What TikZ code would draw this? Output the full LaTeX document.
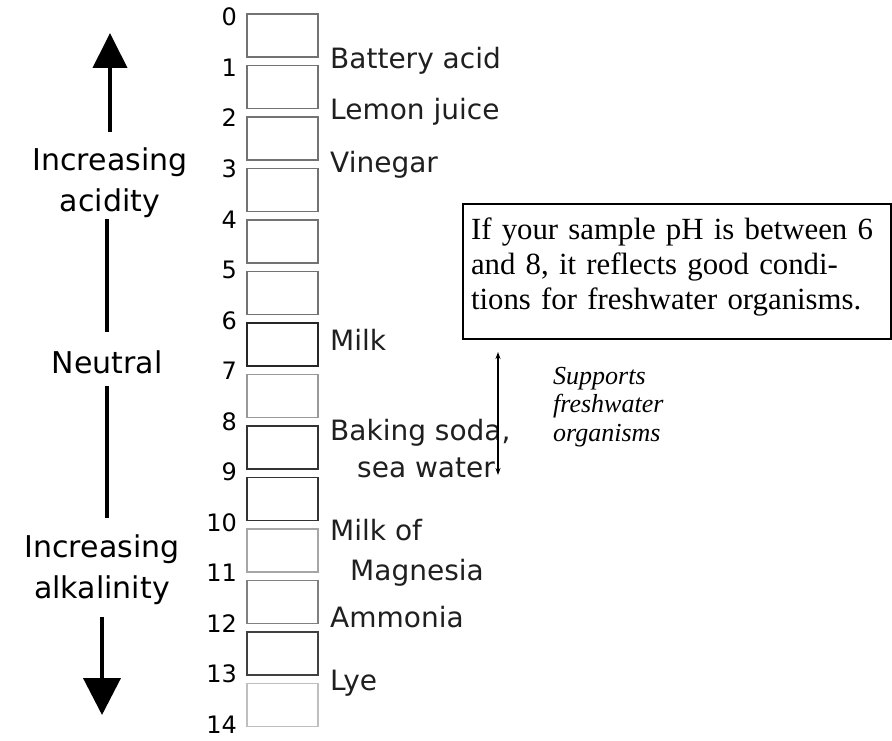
\documentclass[tikz,border=0pt]{standalone}
\usepackage{fontspec}
\setmainfont{Liberation Serif}
\newfontfamily\pixfont{DejaVu Sans}
\usetikzlibrary{arrows.meta}

\tikzset{
  phbox/.style={minimum width=71pt, minimum height=43pt, inner sep=0pt, line width=1.5pt},
  phnum/.style={font=\pixfont\fontsize{24}{26}\selectfont, anchor=base east, inner sep=0pt},
  scalelabel/.style={font=\pixfont\fontsize{28}{30}\selectfont, anchor=base west, inner sep=0pt, text=black!88},
  sidelabel/.style={font=\pixfont\fontsize{30}{41}\selectfont, align=center, inner sep=0pt},
  shaft/.style={line width=4pt},
  notebox/.style={draw, line width=2pt, font=\fontsize{30.8}{35}\selectfont, align=left,
    text width=412pt, inner xsep=8pt, inner ysep=13.5pt},
  goodrange/.style={line width=1.2pt, {Stealth[length=7pt,width=5pt]}-{Stealth[length=7pt,width=5pt]}}
}

\begin{document}
\begin{tikzpicture}[x=1pt,y=-1pt]
\useasboundingbox (0,0) rectangle (892,741);

% pH scale
\foreach \i/\shade in {0/55,1/55,2/55,3/55,4/55,5/55,6/85,7/40,8/80,9/80,10/35,11/50,12/75,13/25}
\node[phbox,draw=black!\shade] (box\i) at (282.5,35.5+51.5*\i) {};

\foreach \n in {0,...,14}
\node[phnum] (num\n) at (237,26+50.5*\n) {\n};

\node[scalelabel] (battery) at (330,69) {Battery acid};
\node[scalelabel] (lemon) at (330,120) {Lemon juice};
\node[scalelabel] (vinegar) at (330,172) {Vinegar};
\node[scalelabel] (milk) at (330,350) {Milk};
\node[scalelabel] (soda) at (330,440) {Baking soda,};
\node[scalelabel] (sea) at (357,477) {sea water};
\node[scalelabel] (milkof) at (330,540) {Milk of};
\node[scalelabel] (magnesia) at (350,580) {Magnesia};
\node[scalelabel] (ammonia) at (330,627) {Ammonia};
\node[scalelabel] (lye) at (330,690) {Lye};

\node[sidelabel,anchor=north] (acid) at (110,147.5) {Increasing\\acidity};
\node[sidelabel,anchor=base] (neutral) at (107,373) {Neutral};
\node[sidelabel,anchor=north] (alk) at (102,535) {Increasing\\alkalinity};

\coordinate (uptip) at (110,33);
\coordinate (downtip) at (102,715);

\draw[shaft,-{Triangle[length=35pt,width=34pt]}] ([yshift=15pt]acid.north) -- (uptip);
\draw[shaft] ([yshift=-1pt]acid.south -| neutral.south) -- ([yshift=18pt]neutral.north);
\draw[shaft] ([yshift=-12pt]neutral.south) -- ([yshift=17pt]neutral.south |- alk.north);
\draw[shaft,-{Triangle[length=37pt,width=37pt]}] ([yshift=-12pt]alk.south) -- (downtip);

\node[notebox,anchor=north west] (note) at (462,203)
  {If your sample pH is between 6\\and 8, it reflects good condi-\\tions for freshwater organisms.\rule[-16.5pt]{0pt}{0pt}};

\node[font=\itshape\fontsize{26}{28.5}\selectfont, align=left, anchor=north west, inner sep=0pt]
  (supports) at (553,367) {Supports\\freshwater\\organisms};

\coordinate (rtop) at (498,352);
\coordinate (rbot) at (498,475);
\draw[goodrange] (rtop) -- (rbot);
\end{tikzpicture}
\end{document}
